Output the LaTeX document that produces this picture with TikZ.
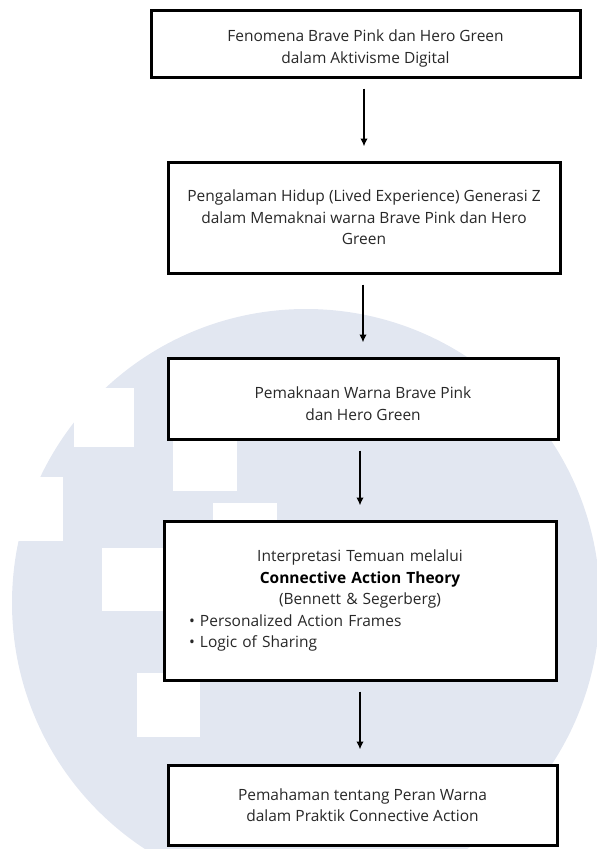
\documentclass[tikz,border=0pt]{standalone}
\usepackage{fontspec}
\setmainfont{Open Sans}
\usepackage{xcolor}
\usetikzlibrary{arrows.meta}

\definecolor{wmgray}{RGB}{226,231,241}
\definecolor{flowtext}{RGB}{40,40,40}

\begin{document}
\begin{tikzpicture}[x=1pt,y=-1pt,
  flowbox/.style={draw=black, line width=3pt, fill=white, align=center, text=flowtext,
    font=\fontsize{15.5}{21.5}\selectfont, inner sep=0pt},
  flowarrow/.style={line width=1.6pt, -{Latex[length=8pt,width=7.5pt]},
    shorten <=10pt, shorten >=14pt}]

% Page frame (597 x 849 px, y runs downwards)
\useasboundingbox (0,0) rectangle (597,849);

% Watermark in the background
\begin{scope}
\clip (0,0) rectangle (597,849);
\fill[wmgray] (306,603) circle[radius=294];
\end{scope}
\fill[white] (74,388) rectangle (134,447);
\fill[white] (173,430) rectangle (237,491);
\fill[white] (213,503) rectangle (277,530);
\fill[white] (0,477) rectangle (63,541);
\fill[white] (102,548) rectangle (170,611);
\fill[white] (137,673) rectangle (200,737);

% Flow boxes (the rule pushes the text a little lower)
\node[flowbox, minimum width=429pt, minimum height=67pt] (fenomena) at (365.5,43.5)
  {\rule{0pt}{22pt}Fenomena Brave Pink dan Hero Green\\ dalam Aktivisme Digital};
\node[flowbox, minimum width=392pt, minimum height=111pt] (pengalaman) at (364,217.5)
  {Pengalaman Hidup (Lived Experience) Generasi Z\\ dalam Memaknai warna Brave Pink dan Hero\\ Green};
\node[flowbox, minimum width=390pt, minimum height=81pt] (makna) at (363,398.5)
  {\rule{0pt}{22pt}Pemaknaan Warna Brave Pink\\ dan Hero Green};
\node[flowbox, minimum width=392pt, minimum height=159pt, text width=342pt, align=left] (teori) at (360,600.5)
  {{\centering Interpretasi Temuan melalui\\ \textbf{\color{black}Connective Action Theory}\\ (Bennett \& Segerberg)\par}
   \textbullet\ Personalized Action Frames\\ \textbullet\ Logic of Sharing};
\node[flowbox, minimum width=389pt, minimum height=80pt] (peran) at (362.5,805)
  {Pemahaman tentang Peran Warna\\ dalam Praktik Connective Action};

% Arrows
\draw[flowarrow] (pengalaman.north |- fenomena.south) -- (pengalaman.north);
\draw[flowarrow] (makna.north |- pengalaman.south) -- (makna.north);
\draw[flowarrow] (teori.north |- makna.south) -- (teori.north);
\draw[flowarrow] (teori.south) -- (teori.south |- peran.north);

\end{tikzpicture}
\end{document}
